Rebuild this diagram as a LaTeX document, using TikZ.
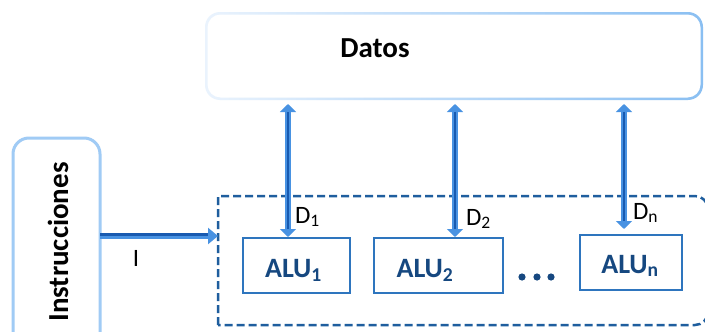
\documentclass[tikz,border=0pt]{standalone}
\usepackage{fontspec}
\setmainfont{Carlito}
\usetikzlibrary{arrows.meta,calc}

\definecolor{paneledge}{RGB}{160,203,245}
\definecolor{edgeL}{RGB}{234,243,253}
\definecolor{edgeR}{RGB}{138,191,242}
\definecolor{busblue}{RGB}{31,94,158}
\definecolor{alublue}{RGB}{46,117,190}
\definecolor{alutext}{RGB}{22,72,128}
\definecolor{arrowlight}{RGB}{72,146,226}
\definecolor{arrowdark}{RGB}{24,90,176}

\begin{document}
\begin{tikzpicture}[x=1pt,y=-1pt,
  every node/.style={inner sep=0pt, outer sep=0pt},
  bigtext/.style={font=\fontsize{29}{31}\selectfont\bfseries},
  alubox/.style={draw=alublue, line width=2.5pt, minimum height=55pt},
  alulbl/.style={font=\fontsize{28}{30}\selectfont\bfseries, text=alutext, anchor=base},
  dlbl/.style={font=\fontsize{25}{27}\selectfont, anchor=west},
  busline/.style={draw=busblue, line width=2.5pt, dash pattern=on 8pt off 4pt},
  vbus/.style={line width=6pt, draw=arrowlight,
    {Triangle[width=16pt,length=8pt]}-{Triangle[width=16pt,length=8pt]}},
  vcore/.style={line width=2.5pt, draw=arrowdark, shorten <=8pt, shorten >=8pt},
  ibus/.style={line width=6pt, draw=arrowlight, -{Triangle[width=16pt,length=10pt]}},
  icore/.style={line width=3pt, draw=arrowdark, shorten >=10pt},
]
\useasboundingbox (0,0) rectangle (705,332);
\clip (0,0) rectangle (705,332);
\fill[white] (0,0) rectangle (705,332);

% data memory
\node[minimum width=498pt, minimum height=88pt] (datos) at (454,56) {};
\shade[left color=edgeL, right color=edgeR, rounded corners=15pt]
  (datos.south west) rectangle (datos.north east);
\fill[white, rounded corners=13pt]
  ($(datos.south west)+(2.5,-2.5)$) rectangle ($(datos.north east)+(-2.5,2.5)$);
\node[bigtext, anchor=base] (datoslbl) at (375,57) {Datos};

% instruction stream
\node[draw=paneledge, line width=3pt, rounded corners=16pt,
      minimum width=87pt, minimum height=214pt] (instr) at (56.5,245) {};
\node[bigtext, rotate=90] (instrlbl) at (58,242) {Instrucciones};

% processing array frame
\node[minimum width=490pt, minimum height=129pt] (bus) at (463,260.5) {};
\draw[busline] (bus.south west) -- (bus.north west) [rounded corners=13pt]
  -- (bus.north east) -- (bus.south east) [sharp corners] -- cycle;

% ALUs
\node[alubox, minimum width=107pt] (alu1) at (296.5,265.5) {};
\node[alubox, minimum width=129pt] (alu2) at (438.5,265.5) {};
\node[alubox, minimum width=102pt] (alun) at (631,262.5) {};
\node[alulbl] (alu1lbl) at (293.5,277) {ALU\textsubscript{1}};
\node[alulbl] (alu2lbl) at (425,277) {ALU\textsubscript{2}};
\node[alulbl] (alunlbl) at (630,273) {ALU\textsubscript{n}};

% ellipsis between ALUs
\node (dots) at (537,277) {};
\foreach \dx in {-15,0,14}
  \fill[alutext] ($(dots)+(\dx,0)$) circle (3.6pt);

% data paths
\coordinate (t1) at ($(datos.south -| alu1.north)+(-8.5,4)$);
\coordinate (b1) at ($(alu1.north)+(-8.5,-1)$);
\coordinate (t2) at ($(datos.south -| alu2.north)+(16.5,4)$);
\coordinate (b2) at ($(alu2.north)+(16.5,-1)$);
\coordinate (tn) at ($(datos.south -| alun.north)+(-7,4)$);
\coordinate (bn) at ($(alun.north)+(-7,-6)$);
\foreach \a/\b in {t1/b1,t2/b2,tn/bn}{
  \draw[vbus] (\a) -- (\b);
  \draw[vcore] (\a) -- (\b);
}
\node[dlbl] (d1) at (295,217) {D\textsubscript{1}};
\node[dlbl] (d2) at (466,219) {D\textsubscript{2}};
\node[dlbl] (dn) at (633,213) {D\textsubscript{n}};

% instruction path
\draw[ibus] (instr.east |- 0,236) -- (bus.west |- 0,236);
\draw[icore] ($(instr.east |- 0,236)+(0,-1.2)$) -- ($(bus.west |- 0,236)+(0,-1.2)$);
\node[dlbl, anchor=center] (ilbl) at (136,258) {I};
\end{tikzpicture}
\end{document}
